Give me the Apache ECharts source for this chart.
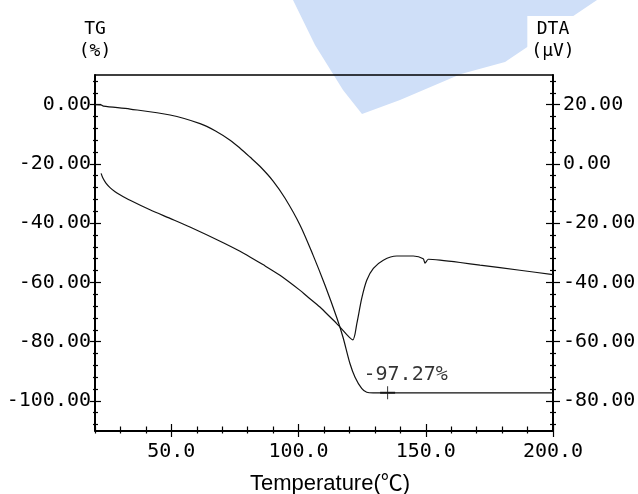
<!DOCTYPE html>
<html>
<head>
<meta charset="utf-8">
<script src="https://cdn.jsdelivr.net/npm/echarts@6/dist/echarts.min.js"></script>
<style>
  html, body { margin: 0; padding: 0; background: #fff; }
  #chart { width: 638px; height: 494px; }
</style>
</head>
<body>
<div id="chart"></div>
<script>
// ---- data ----
const tgTemp  = [20, 22.4, 23.3, 33.8, 49.5, 61.3, 67.2, 73.1, 77.0, 80.9, 84.9, 90.0, 94.7, 100.6, 105.7, 110.4, 115.1, 117.5, 120.2, 122.2, 124.8, 126.8, 129.3, 135, 200];
const tgValue = [0, -0.1, -0.5, -1.5, -3.5, -6.4, -8.8, -12.0, -14.7, -17.7, -20.9, -25.8, -31.6, -40.7, -50.8, -61.0, -72.1, -78.6, -87.4, -92.0, -95.8, -97.1, -97.3, -97.27, -97.3];

const dtaTemp  = [22.4, 23.1, 24.3, 25.9, 27.9, 29.8, 33.8, 41.6, 49.5, 57.3, 70.4, 77.0, 80.9, 86.0, 92.7, 100.6, 103.2, 108.4, 111.1, 115.0, 116.3, 121.3, 122.9, 124.8, 126.8, 129.4, 133.3, 138.6, 145.1, 149.0, 149.7, 151.0, 155.6, 163.5, 171.3, 187.0, 200];
const dtaValue = [-3.2, -4.8, -6.5, -8.0, -9.4, -10.4, -12.3, -15.5, -18.4, -21.3, -26.6, -29.5, -31.4, -34.0, -37.6, -42.7, -44.6, -48.3, -50.6, -53.9, -55.1, -59.4, -53.9, -45.5, -39.3, -35.3, -32.5, -31.1, -31.1, -32.0, -33.5, -32.2, -32.5, -33.3, -34.2, -35.9, -37.4];

const markerTemp = 135;
const markerValue = -97.27;
const markerText = '-97.27%';

const xLabelValues   = [50, 100, 150, 200];
const xMinorTicks    = [20, 30, 40, 60, 70, 80, 90, 110, 120, 130, 140, 160, 170, 180, 190];
const tgLabelValues  = [-100, -80, -60, -40, -20, 0];
const dtaLabelValues = [-80, -60, -40, -20, 0, 20];
const yMinorTicks    = [-108, -104, -96, -92, -88, -84, -76, -72, -68, -64, -56, -52, -48, -44, -36, -32, -28, -24, -16, -12, -8, -4, 4, 8];

// ---- chart ----
const MONO = 'DejaVu Sans Mono';
const chart = echarts.init(document.getElementById('chart'));

function tickAxis(pos, offset, len, values, isX) {
  return {
    type: 'value', position: pos, offset: offset,
    min: isX ? 20 : -110, max: isX ? 200 : 10,
    axisLine: { show: false, onZero: false },
    splitLine: { show: false },
    axisLabel: { show: false, customValues: values },
    axisTick: { show: true, length: len, customValues: values, lineStyle: { color: '#000', width: 1.2 } }
  };
}

const option = {
  animation: false,
  backgroundColor: '#fff',
  graphic: [{
    type: 'polygon', z: -10,
    shape: { points: [[293, 0], [597, 0], [505, 62], [461, 74], [400, 100], [362, 114], [343, 90], [315, 45]] },
    style: { fill: '#cfdff8' }
  }],
  grid: { left: 95, right: 85, top: 75, bottom: 63.5, containLabel: false, outerBoundsMode: 'none' },
  xAxis: [
    {
      type: 'value', position: 'bottom', min: 20, max: 200,
      name: 'Temperature(℃)', nameLocation: 'middle', nameGap: 42,
      nameTextStyle: { fontFamily: 'Liberation Sans, Noto Sans CJK JP', fontSize: 22, color: '#000', padding: [0, 0, 0, 12] },
      axisLine: { show: true, onZero: false, lineStyle: { color: '#000', width: 2 } },
      axisTick: { show: false },
      splitLine: { show: false },
      axisLabel: { customValues: xLabelValues, formatter: v => v.toFixed(1), fontFamily: MONO, fontSize: 20, color: '#000', margin: 11 }
    },
    {
      type: 'value', position: 'top', min: 20, max: 200,
      axisLine: { show: true, onZero: false, lineStyle: { color: '#000', width: 1.5 } },
      axisTick: { show: false }, axisLabel: { show: false }, splitLine: { show: false }
    },
    tickAxis('bottom', -4, 7, xMinorTicks, true),
    tickAxis('bottom', -6.5, 13, xLabelValues, true)
  ],
  yAxis: [
    {
      type: 'value', position: 'left', min: -110, max: 10,
      name: 'TG\n(%)', nameLocation: 'end', nameGap: 13,
      nameTextStyle: { fontFamily: MONO, fontSize: 18, lineHeight: 22, color: '#000', align: 'center' },
      axisLine: { show: true, onZero: false, lineStyle: { color: '#000', width: 2 } },
      axisTick: { show: false }, splitLine: { show: false },
      axisLabel: { customValues: tgLabelValues, formatter: v => v.toFixed(2), fontFamily: MONO, fontSize: 20, color: '#000', margin: 4 }
    },
    {
      type: 'value', position: 'right', min: -90, max: 30,
      name: 'DTA\n(μV)', nameLocation: 'end', nameGap: 13,
      nameTextStyle: { fontFamily: MONO, fontSize: 18, lineHeight: 22, color: '#000', align: 'center', backgroundColor: '#fff', padding: [2, 4, 0, 4] },
      axisLine: { show: true, onZero: false, lineStyle: { color: '#000', width: 2 } },
      axisTick: { show: false }, splitLine: { show: false },
      axisLabel: { customValues: dtaLabelValues, formatter: v => v.toFixed(2), fontFamily: MONO, fontSize: 20, color: '#000', margin: 10 }
    },
    tickAxis('left', -3, 5, yMinorTicks, false),
    tickAxis('left', -6, 11, tgLabelValues, false),
    tickAxis('right', -3, 6, yMinorTicks, false),
    tickAxis('right', -7, 14, tgLabelValues, false)
  ],
  series: [
    {
      name: 'TG', type: 'line', xAxisIndex: 0, yAxisIndex: 0,
      data: tgTemp.map((t, i) => [t, tgValue[i]]),
      showSymbol: false, smooth: 0.3,
      lineStyle: { color: '#111', width: 1.2 }
    },
    {
      name: 'DTA', type: 'line', xAxisIndex: 0, yAxisIndex: 1,
      data: dtaTemp.map((t, i) => [t, dtaValue[i]]),
      showSymbol: false, smooth: 0.25,
      lineStyle: { color: '#111', width: 1.2 }
    },
    {
      name: 'marker', type: 'scatter', xAxisIndex: 0, yAxisIndex: 0,
      data: [[markerTemp, markerValue]],
      symbol: 'path://M7,0h1v13h-1z M0,5.5h15v2h-15z', symbolSize: [15, 13],
      itemStyle: { color: '#000' },
      label: { show: true, formatter: markerText, position: 'top', distance: 1, offset: [18, 0], fontFamily: MONO, fontSize: 20, color: '#000' }
    }
  ]
};
chart.setOption(option);
</script>
</body>
</html>
